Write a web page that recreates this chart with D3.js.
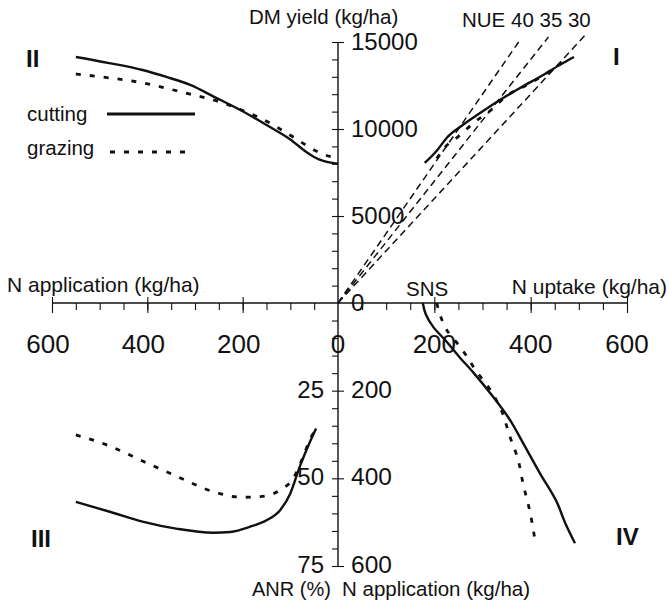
<!DOCTYPE html>
<html><head><meta charset="utf-8">
<script src="https://cdn.jsdelivr.net/npm/d3@7"></script>
<style>
html,body{margin:0;padding:0;background:#fff;}
svg{display:block;font-family:"Liberation Sans", Arial, Helvetica, sans-serif;}
</style></head><body>
<svg id="chart" width="669" height="609"></svg>
<script>
// ---------- DATA ----------
// Quadrant II: DM yield (kg/ha) vs N application (kg/ha)
const nApp_II         = [0, 40, 65, 100, 150, 205, 260, 310, 360, 410, 480, 550];
const yieldCutting_II = [8000, 8250, 8650, 9400, 10230, 11090, 11850, 12530, 12990, 13390, 13790, 14140];
const yieldGrazing_II = [8300, 8650, 9040, 9640, 10450, 11120, 11660, 12000, 12340, 12650, 12940, 13160];

// Quadrant I: DM yield vs N uptake (kg/ha)
const uptakeCutting_I = [180, 205, 226, 259, 295, 336, 378, 426, 467, 490];
const yieldCutting_I  = [8050, 8750, 9500, 10230, 10920, 11670, 12360, 13100, 13790, 14140];
const uptakeGrazing_I = [205, 222, 249, 284, 316, 350, 390, 430, 465];
const yieldGrazing_I  = [8300, 8950, 9550, 10400, 11050, 11900, 12500, 13150, 13800];

// NUE iso-lines (kg DM / kg N uptake)
const nueValues    = [40, 35, 30];
const nueMaxUptake = [375, 437, 512];

// Quadrant III: ANR (%) vs N application
const nAppCutting_III = [550, 477, 408, 337, 262, 226, 184, 149, 121, 100, 80, 63, 46];
const anrCutting_III  = [56.7, 59.6, 62.4, 64.4, 65.5, 65.3, 63.8, 61.9, 59.0, 54.3, 46.6, 40.9, 35.8];
const nAppGrazing_III = [550, 477, 408, 337, 262, 199, 163, 121, 94, 76, 59, 48];
const anrGrazing_III  = [37.6, 40.9, 45.2, 49.5, 53.8, 55.4, 55.2, 53.3, 50.0, 44.8, 39.0, 36.2];

// Quadrant IV: N uptake vs N application
const uptakeCutting_IV = [176, 182, 198, 222, 252, 282, 322, 353, 384, 419, 455, 471, 492];
const nAppCutting_IV   = [0, 25, 55, 84, 123, 160, 214, 260, 319, 388, 456, 500, 548];
const uptakeGrazing_IV = [205, 212, 226, 255, 288, 316, 336, 357, 374, 384, 399, 409];
const nAppGrazing_IV   = [0, 27, 62, 102, 157, 198, 237, 305, 358, 411, 479, 541];

// Tick labels
const nTickLabels      = [600, 400, 200];
const uptakeTickLabels = [200, 400, 600];
const yieldTickLabels  = [15000, 10000, 5000, 0];
const anrTickLabels    = [25, 50, 75];
const nAppDownLabels   = [200, 400, 600];
const quadrantLabels   = ["I", "II", "III", "IV"];
const seriesNames      = ["cutting", "grazing"];

// ---------- SCALES ----------
const svg = d3.select("#chart");
svg.append("rect").attr("width", 669).attr("height", 609).attr("fill", "#fff");

const xL = d3.scaleLinear().domain([0, 600]).range([338, 52]);   // N application (left)
const xR = d3.scaleLinear().domain([0, 600]).range([338, 627]);  // N uptake (right)
const yT = d3.scaleLinear().domain([0, 15000]).range([303, 42]); // DM yield (up)
const yA = d3.scaleLinear().domain([0, 75]).range([303, 566]);   // ANR (down)
const yN = d3.scaleLinear().domain([0, 600]).range([303, 566]);  // N application (down)
const ox = xL(0), oy = yT(0);

const ink = "#111";

// ---------- AXES ----------
function clean(g) { g.select(".domain").remove(); g.selectAll("line").attr("stroke", ink).attr("stroke-width", 1.1); }

svg.append("line").attr("x1", xL(600)).attr("x2", xR(600)).attr("y1", oy).attr("y2", oy)
  .attr("stroke", ink).attr("stroke-width", 1.4);
svg.append("line").attr("x1", ox).attr("x2", ox).attr("y1", yT(15000)).attr("y2", yA(75))
  .attr("stroke", ink).attr("stroke-width", 1.4);

const gH = svg.append("g").attr("transform", `translate(0,${oy})`);
[xL, xR].forEach(s => {
  gH.append("g").call(d3.axisBottom(s).tickValues(d3.range(50, 600, 50)).tickSize(7).tickSizeOuter(0).tickFormat("")).call(clean);
  gH.append("g").call(d3.axisBottom(s).tickValues([200, 400, 600]).tickSize(10).tickSizeOuter(0).tickFormat("")).call(clean);
  gH.append("g").call(d3.axisTop(s).tickValues([200, 400, 600]).tickSize(6).tickSizeOuter(0).tickFormat("")).call(clean);
});

const gV = svg.append("g").attr("transform", `translate(${ox},0)`);
gV.append("g").call(d3.axisLeft(yT).tickValues(d3.range(1000, 15001, 1000)).tickSize(6).tickSizeOuter(0).tickFormat("")).call(clean);
gV.append("g").call(d3.axisRight(yT).tickValues([5000, 10000, 15000]).tickSize(6).tickSizeOuter(0).tickFormat("")).call(clean);
gV.append("g").call(d3.axisLeft(yA).tickValues(d3.range(5, 76, 5)).tickSize(6).tickSizeOuter(0).tickFormat("")).call(clean);
gV.append("g").call(d3.axisRight(yA).tickValues([25, 50, 75]).tickSize(6).tickSizeOuter(0).tickFormat("")).call(clean);

// ---------- TICK LABELS ----------
const tl = svg.append("g").attr("fill", ink);
nTickLabels.forEach(v => tl.append("text").attr("x", xL(v) - 4).attr("y", 353)
  .attr("text-anchor", "middle").attr("font-size", 26).text(v));
tl.append("text").attr("x", ox).attr("y", 353).attr("text-anchor", "middle").attr("font-size", 26).text(0);
uptakeTickLabels.forEach(v => tl.append("text").attr("x", xR(v)).attr("y", 353)
  .attr("text-anchor", "middle").attr("font-size", 26).text(v));
yieldTickLabels.forEach(v => tl.append("text").attr("x", ox + 13).attr("y", yT(v)).attr("dy", "0.35em")
  .attr("font-size", 24).text(v));
anrTickLabels.forEach(v => tl.append("text").attr("x", ox - 14).attr("y", yA(v)).attr("dy", "0.29em")
  .attr("text-anchor", "end").attr("font-size", 24).text(v));
nAppDownLabels.forEach(v => tl.append("text").attr("x", ox + 13).attr("y", yN(v)).attr("dy", "0.29em")
  .attr("font-size", 24.5).text(v));

// ---------- AXIS TITLES ----------
const tt = svg.append("g").attr("fill", ink).attr("font-size", 20.5);
tt.append("text").attr("x", 249).attr("y", 24).text("DM yield (kg/ha)");
tt.append("text").attr("x", 462).attr("y", 27).text("NUE " + nueValues.join(" "));
tt.append("text").attr("x", 7).attr("y", 292).attr("font-size", 21).text("N application (kg/ha)");
tt.append("text").attr("x", 667).attr("y", 294).attr("text-anchor", "end").attr("font-size", 21).text("N uptake (kg/ha)");
tt.append("text").attr("x", 406).attr("y", 296).text("SNS");
tt.append("text").attr("x", 252).attr("y", 596).attr("font-size", 20).text("ANR (%)");
tt.append("text").attr("x", 342).attr("y", 596).attr("font-size", 20.5).text("N application (kg/ha)");

// quadrant numerals
const qn = svg.append("g").attr("fill", ink).attr("font-weight", "bold").attr("font-size", 24);
qn.append("text").attr("x", 613).attr("y", 65).text(quadrantLabels[0]);
qn.append("text").attr("x", 26).attr("y", 67).text(quadrantLabels[1]);
qn.append("text").attr("x", 31).attr("y", 547).text(quadrantLabels[2]);
qn.append("text").attr("x", 616).attr("y", 545).text(quadrantLabels[3]);

// ---------- NUE LINES ----------
nueValues.forEach((n, i) => {
  svg.append("line").attr("x1", xR(0)).attr("y1", yT(0))
    .attr("x2", xR(nueMaxUptake[i])).attr("y2", yT(n * nueMaxUptake[i]))
    .attr("stroke", ink).attr("stroke-width", 1.5).attr("stroke-dasharray", "7,4.5");
});

// ---------- CURVES ----------
const solid = { stroke: ink, "stroke-width": 2.4, fill: "none" };
const dotted = { stroke: ink, "stroke-width": 2.8, fill: "none", "stroke-dasharray": "5,9" };
function draw(xs, ys, sx, sy, style, curve, sortKey) {
  let pts = xs.map((x, i) => [sx(x), sy(ys[i])]);
  pts.sort((a, b) => a[sortKey] - b[sortKey]);
  const p = svg.append("path").attr("d", d3.line().curve(curve)(pts));
  Object.entries(style).forEach(([k, v]) => p.attr(k, v));
}
const MX = d3.curveMonotoneX, MY = d3.curveMonotoneY;
// II
draw(nApp_II, yieldGrazing_II, xL, yT, dotted, MX, 0);
draw(nApp_II, yieldCutting_II, xL, yT, solid, MX, 0);
// I
draw(uptakeGrazing_I, yieldGrazing_I, xR, yT, dotted, MX, 0);
draw(uptakeCutting_I, yieldCutting_I, xR, yT, solid, MX, 0);
// III
draw(nAppGrazing_III, anrGrazing_III, xL, yA, dotted, MX, 0);
draw(nAppCutting_III, anrCutting_III, xL, yA, solid, MX, 0);
// IV
draw(uptakeGrazing_IV, nAppGrazing_IV, xR, yN, dotted, MY, 1);
draw(uptakeCutting_IV, nAppCutting_IV, xR, yN, solid, MY, 1);

// ---------- LEGEND ----------
const lg = svg.append("g").attr("fill", ink).attr("font-size", 20.5);
lg.append("text").attr("x", 27).attr("y", 121).text(seriesNames[0]);
lg.append("text").attr("x", 27).attr("y", 155).text(seriesNames[1]);
const l1 = lg.append("line").attr("x1", 107).attr("x2", 195).attr("y1", 114).attr("y2", 114);
Object.entries(solid).forEach(([k, v]) => l1.attr(k, v));
l1.attr("stroke-width", 3);
const l2 = lg.append("line").attr("x1", 110).attr("x2", 192).attr("y1", 152).attr("y2", 152);
Object.entries(dotted).forEach(([k, v]) => l2.attr(k, v));
</script>
</body></html>
